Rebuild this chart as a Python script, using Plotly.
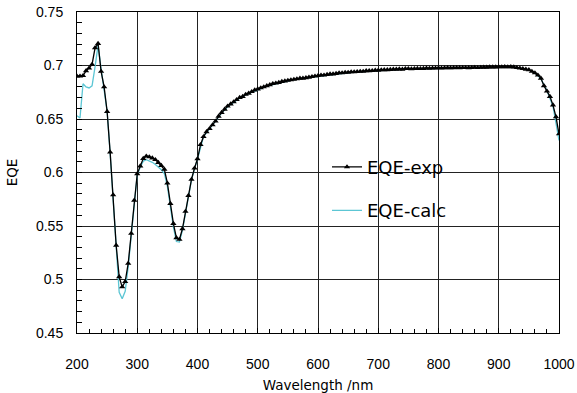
import plotly.graph_objects as go

# Measured external quantum efficiency, 5 nm steps from 200 to 1000 nm
wl_exp = list(range(200, 1001, 5))
eqe_exp = [
    0.690, 0.690, 0.6905, 0.695, 0.6975, 0.701, 0.7165, 0.7205, 0.6944, 0.680,
    0.657, 0.619, 0.579, 0.532, 0.5025, 0.493, 0.498, 0.515, 0.543, 0.574,
    0.5988, 0.606, 0.613, 0.6152, 0.6145, 0.6135, 0.612, 0.6093, 0.6065, 0.603,
    0.590, 0.571, 0.5523, 0.539, 0.5374, 0.5474, 0.5636, 0.5785, 0.5935, 0.604,
    0.6128,
    # 405 - 500
    0.626, 0.6335, 0.638, 0.641, 0.6445, 0.648, 0.6525, 0.656, 0.659, 0.662,
    0.664, 0.666, 0.668, 0.670, 0.671, 0.673, 0.674, 0.6755, 0.677, 0.678,
    # 505 - 600
    0.679, 0.680, 0.681, 0.682, 0.683, 0.6835, 0.684, 0.685, 0.6855, 0.686,
    0.6865, 0.687, 0.6875, 0.688, 0.688, 0.6885, 0.689, 0.6895, 0.690, 0.6905,
    # 605 - 700
    0.691, 0.691, 0.6915, 0.692, 0.692, 0.6925, 0.693, 0.693, 0.6935, 0.6935,
    0.694, 0.694, 0.6942, 0.6945, 0.6945, 0.695, 0.695, 0.6952, 0.6955, 0.6955,
    # 705 - 800
    0.6958, 0.696, 0.696, 0.6962, 0.6965, 0.6965, 0.6967, 0.6965, 0.697, 0.697,
    0.6968, 0.697, 0.6972, 0.697, 0.6972, 0.6975, 0.6973, 0.6975, 0.6975, 0.6977,
    # 805 - 900
    0.6975, 0.6977, 0.6978, 0.6977, 0.6978, 0.698, 0.6978, 0.698, 0.698, 0.6978,
    0.698, 0.6982, 0.698, 0.6982, 0.6983, 0.6983, 0.6985, 0.6985, 0.6985, 0.6987,
    # 905 - 1000
    0.6987, 0.6988, 0.6987, 0.6988, 0.6985, 0.698, 0.6975, 0.697, 0.6965, 0.696,
    0.6945, 0.693, 0.691, 0.688, 0.681, 0.676, 0.671, 0.663, 0.652, 0.636,
]

# Calculated EQE: 5 nm steps up to 400 nm, 10 nm steps above
wl_calc = list(range(200, 401, 5)) + list(range(410, 1001, 10))
eqe_calc = [
    0.653, 0.651, 0.683, 0.680, 0.679, 0.681, 0.699, 0.719, 0.697, 0.679,
    0.657, 0.618, 0.575, 0.525, 0.488, 0.482, 0.489, 0.512, 0.543, 0.574,
    0.598, 0.605, 0.6105, 0.612, 0.611, 0.6095, 0.6075, 0.605, 0.6025, 0.599,
    0.587, 0.568, 0.549, 0.5355, 0.535, 0.546, 0.563, 0.578, 0.593, 0.6035,
    0.6125,
    # 410 - 1000
    0.6335, 0.641, 0.648, 0.6555, 0.6615, 0.6658, 0.6695, 0.6725, 0.675, 0.6775,
    0.6795, 0.6815, 0.683, 0.6845, 0.6858, 0.6868, 0.6878, 0.6885, 0.6893, 0.6902,
    0.6908, 0.6916, 0.6922, 0.6928, 0.6933, 0.6938, 0.6943, 0.6947, 0.695, 0.6954,
    0.6957, 0.696, 0.6963, 0.6965, 0.6967, 0.6969, 0.697, 0.6972, 0.6974, 0.6975,
    0.6976, 0.6977, 0.6978, 0.6979, 0.698, 0.6981, 0.6982, 0.6983, 0.6984, 0.6985,
    0.6986, 0.6985, 0.698, 0.697, 0.696, 0.693, 0.6875, 0.6765, 0.662, 0.630,
]

x_ticks = list(range(200, 1001, 100))
y_ticks = [0.45, 0.5, 0.55, 0.6, 0.65, 0.7, 0.75]

tick_font = dict(family="Liberation Sans, Arial, sans-serif", size=14, color="#000")
label_font = "DejaVu Sans, sans-serif"

fig = go.Figure()

fig.add_trace(go.Scatter(
    x=wl_calc, y=eqe_calc, name="EQE-calc", mode="lines",
    line=dict(color="#5cc6d4", width=1.3),
    legendgroup="calc", legendrank=2,
))
fig.add_trace(go.Scatter(
    x=wl_exp, y=eqe_exp, name="EQE-exp", mode="lines+markers",
    line=dict(color="#000", width=1.3),
    marker=dict(symbol="triangle-up", size=5.5, color="#000"),
    legendgroup="exp", legendrank=1,
))

# white panel behind the legend, hiding the grid
fig.add_shape(
    type="rect", xref="paper", yref="paper",
    x0=(300 - 77) / 482, x1=(477 - 77) / 482,
    y0=1 - (228 - 12.5) / 320.5, y1=1 - (144 - 12.5) / 320.5,
    fillcolor="white", line=dict(width=0), layer="between",
)

axis_common = dict(
    showline=True, linecolor="#000", linewidth=1, mirror=True,
    showgrid=True, gridcolor="#222", gridwidth=1,
    ticks="inside", ticklen=5, tickcolor="#000",
    tickfont=tick_font, zeroline=False, automargin=False,
)

fig.update_xaxes(
    range=[200, 1000], tickvals=x_ticks,
    minor=dict(dtick=20, ticks="inside", ticklen=4, tickcolor="#000", showgrid=False),
    title=dict(text="Wavelength /nm", font=dict(family=label_font, size=13.5, color="#000")),
    ticklabelstandoff=18,
    **axis_common,
)
fig.update_yaxes(
    range=[0.45, 0.75], tickvals=y_ticks,
    minor=dict(dtick=0.01, ticks="inside", ticklen=5, tickcolor="#000", showgrid=False),
    title=dict(text="EQE", font=dict(family=label_font, size=13.5, color="#000")),
    ticklabelstandoff=10,
    **axis_common,
)

fig.update_layout(
    width=577, height=393,
    margin=dict(l=77, r=18, t=12, b=60, autoexpand=False),
    plot_bgcolor="white", paper_bgcolor="white",
    showlegend=True,
    legend=dict(
        x=(327 - 77) / 482, xanchor="left",
        y=1 - (149 - 12.5) / 320.5, yanchor="top",
        bgcolor="rgba(0,0,0,0)", borderwidth=0,
        font=dict(family=label_font, size=18, color="#000"),
        traceorder="grouped", tracegroupgap=17,
    ),
)

fig.write_html("out.html")
